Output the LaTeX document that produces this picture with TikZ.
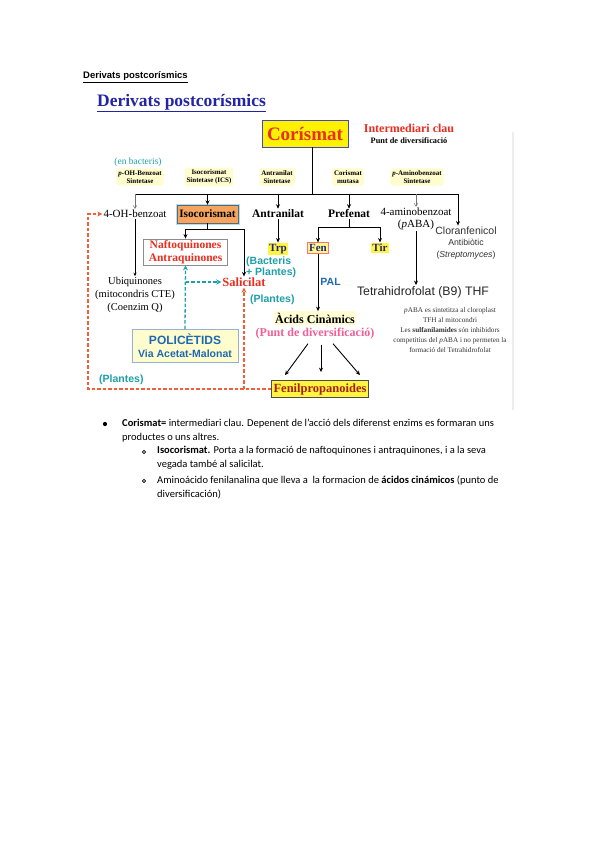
\documentclass[tikz,border=0pt]{standalone}
\usepackage{fontspec}
\setmainfont{Liberation Serif}
\setsansfont{Liberation Sans}
\newfontfamily\bodyfont{Carlito}
\usetikzlibrary{positioning, calc, arrows.meta}

\definecolor{titleblue}{RGB}{35,35,165}
\definecolor{corred}{RGB}{235,45,30}
\definecolor{coredge}{RGB}{70,70,200}
\definecolor{tealc}{RGB}{30,160,170}
\definecolor{dashred}{RGB}{242,95,55}
\definecolor{poliblue}{RGB}{30,105,180}
\definecolor{polifill}{RGB}{255,253,205}
\definecolor{poliedge}{RGB}{150,175,215}
\definecolor{pinkc}{RGB}{240,95,150}
\definecolor{fenbrown}{RGB}{165,30,10}
\definecolor{isofill}{RGB}{245,165,95}
\definecolor{navy}{RGB}{35,35,120}
\definecolor{enzfill}{RGB}{255,252,205}

\tikzset{
  every node/.style={inner sep=1pt},
  arr/.style={line width=0.9pt, -{Stealth[length=4.5pt,width=4pt]}},
  thinarr/.style={black!55, line width=0.5pt, -{Straight Barb[length=3pt,width=3.5pt]}},
  reddash/.style={dashred, line width=1.3pt, dash pattern=on 3.5pt off 2pt, -{Stealth[length=5pt,width=5pt]}},
  tealdash/.style={tealc, line width=1.3pt, dash pattern=on 3.5pt off 2pt, -{Stealth[length=5pt,width=5pt]}},
  enzlabel/.style={fill=enzfill, rounded corners=3pt, align=center, font=\bfseries\fontsize{7}{8.5}\selectfont, inner sep=2pt},
  metab/.style={font=\fontsize{11}{13}\selectfont, align=center},
  metabbf/.style={font=\bfseries\fontsize{11.5}{13}\selectfont},
  aminobox/.style={font=\bfseries\fontsize{11}{12}\selectfont, text=navy, fill=yellow!75, inner sep=1.5pt},
  tealnote/.style={text=tealc, font=\sffamily\bfseries\fontsize{10.5}{11}\selectfont, align=left, anchor=west},
  bodytxt/.style={font=\bodyfont\fontsize{10.5}{14}\selectfont, align=left, anchor=west, inner sep=0pt},
}

\begin{document}
\begin{tikzpicture}[x=1pt, y=-1pt]
    \useasboundingbox[fill=white] (0,0) rectangle (599,848);

    % --- Titles ---
    \node[anchor=west, font=\sffamily\bfseries\fontsize{9.5}{11}\selectfont] (pagetitle) at (82,77) {\underline{Derivats postcorísmics}};
    \node[anchor=west, text=titleblue, font=\bfseries\fontsize{17.5}{20}\selectfont] (figtitle) at (96,103) {\underline{Derivats postcorísmics}};

    % faint edge of the pasted figure
    \draw[black!7, line width=1.5pt] (513,132) -- (513,410);

    % --- Corismat and its note ---
    \node[draw=coredge, line width=1pt, fill=yellow, minimum width=86, minimum height=26, inner sep=0pt,
          text=corred, font=\bfseries\fontsize{19}{22}\selectfont] (cor) at (305,134) {Corísmat};
    \node[text=corred, font=\bfseries\fontsize{12}{14}\selectfont] (keynote) at (409,128) {Intermediari clau};
    \node[font=\bfseries\fontsize{8.3}{10}\selectfont] (keysub) at (409,141) {Punt de diversificació};

    % --- Enzymes ---
    \node[text=tealc, font=\fontsize{9.5}{11}\selectfont] (bact) at (138,162) {(en bacteris)};
    \node[enzlabel] (enzohb) at (140,177) {\textit{p}-OH-Benzoat\\Sintetase};
    \node[enzlabel] (enzics) at (209,177) {Isocorismat\\Sintetase (ICS)};
    \node[enzlabel] (enzant) at (277,177) {Antranilat\\Sintetase};
    \node[enzlabel] (enzmut) at (348,177) {Corismat\\mutasa};
    \node[enzlabel] (enzpab) at (417,177) {\textit{p}-Aminobenzoat\\Sintetase};

    % --- First products ---
    \node[metab] (ohb) at (135,214) {4-OH-benzoat};
    \node[draw=black!60, fill=isofill, preaction={draw=cyan!35, line width=3pt},
          minimum width=61, minimum height=18, inner sep=0pt, font=\bfseries\fontsize{11.3}{12}\selectfont] (iso) at (207.5,214) {Isocorismat};
    \node[metabbf] (antr) at (278,214) {Antranilat};
    \node[metabbf] (pref) at (349,214) {Prefenat};
    \node[metab, font=\fontsize{11}{12}\selectfont] (pab) at (416,219) {4-aminobenzoat\\(\textit{p}ABA)};
    \node[align=center, text=black!80, font=\sffamily\fontsize{8.7}{11.5}\selectfont] (clor) at (466,243)
         {{\fontsize{10.5}{12}\selectfont Cloranfenicol}\\Antibiòtic\\(\textit{Streptomyces})};

    % --- Branch from Corismat ---
    \coordinate (barL) at (135,194);
    \coordinate (barR) at (458,194);
    \draw[line width=0.9pt] (312,147) -- (312,194);
    \draw[line width=0.9pt] (barL) -- (barR);
    \draw[thinarr] (barL) -- (ohb.north);
    \draw[arr] (iso.north |- barL) -- (iso.north);
    \draw[arr] (antr.north |- barL) -- (antr.north);
    \draw[arr] (pref.north |- barL) -- (pref.north);
    \draw[thinarr] (pab.north |- barL) -- (pab.north);
    \draw[arr] (barR) -- (barR |- clor.north);

    % --- Isocorismat side ---
    \node[draw=black!45, line width=0.8pt, fill=white, minimum width=84, minimum height=26, inner sep=0pt, align=center,
          text=corred, font=\bfseries\fontsize{11.5}{13}\selectfont] (naft) at (185.5,252) {Naftoquinones\\Antraquinones};
    \node[text=corred, font=\bfseries\fontsize{12.5}{14}\selectfont] (sal) at (244,282) {Salicilat};
    \draw[line width=0.9pt] (iso.south) -- ++(0,6) coordinate (isofork);
    \draw[arr] (isofork) -| (naft.north);
    \draw[arr] (isofork) -| (sal.north);
    \node[tealnote] (bactpl) at (245,267) {(Bacteris\\+ Plantes)};
    \node[tealnote] (plsal) at (249,300) {(Plantes)};

    \node[metab, font=\fontsize{10.5}{12.8}\selectfont] (ubi) at (135,295) {Ubiquinones\\(mitocondris CTE)\\(Coenzim Q)};
    \draw[thinarr, black, line width=0.6pt, -{Stealth[length=3.5pt,width=3pt]}] (ohb.south) -- (ubi.north);

    \node[draw=poliedge, line width=0.9pt, fill=polifill, minimum width=106, minimum height=33, inner sep=0pt, align=center,
          text=poliblue, font=\sffamily\bfseries\fontsize{10.5}{13}\selectfont] (poli) at (185,346)
         {{\fontsize{12}{13}\selectfont POLICÈTIDS}\\Via Acetat-Malonat};
    \draw[tealdash] (poli.north) -- (naft.south);
    \draw[tealdash] (naft.south |- sal.west) -- (sal.west);

    % --- Aromatic amino acids ---
    \node[aminobox] (trp) at (278,249) {Trp};
    \node[aminobox, fill=yellow!45, draw=red!55, line width=0.8pt] (fen) at (318,248) {Fen};
    \node[aminobox] (tir) at (380,248) {Tir};
    \draw[arr] (antr.south) -- (trp.north);
    \draw[line width=0.9pt] (pref.south) -- ++(0,8) coordinate (preffork);
    \draw[arr] (preffork) -| (fen.north);
    \draw[arr] (preffork) -| (tir.north);

    \node[metabbf, font=\bfseries\fontsize{12}{14}\selectfont, fill=yellow!18, inner sep=1.5pt] (acids) at (315,318) {Àcids Cinàmics};
    \node[text=pinkc, font=\bfseries\fontsize{12}{14}\selectfont] (puntdiv) at (315,334) {(Punt de diversificació)};
    \draw[arr] (fen.south) -- (fen.south |- acids.north) node[midway, right=1pt, text=poliblue, font=\sffamily\bfseries\fontsize{10.5}{12}\selectfont] (pal) {PAL};

    \node[draw=black!70, line width=0.8pt, fill=yellow!75, minimum width=97, minimum height=17, inner sep=0pt,
          text=fenbrown, font=\bfseries\fontsize{12.5}{14}\selectfont] (fenil) at (320,389) {Fenilpropanoides};
    \draw[arr] ($(puntdiv.south)+(-7,3)$) -- ($(fenil.north)+(-35,-5)$);
    \draw[arr] ($(puntdiv.south)+(6,4)$) -- ($(fenil.north)+(1,-8)$);
    \draw[arr] ($(puntdiv.south)+(18,3)$) -- ($(fenil.north)+(40,-5)$);

    % --- Plant routes back up ---
    \coordinate (leftrail) at (88,214);
    \draw[reddash] (fenil.west) -| (leftrail) -- (ohb.west);
    \draw[reddash] (sal.south |- fenil.west) -- (sal.south);
    \node[tealnote] (plleft) at (98,380) {(Plantes)};

    % --- Folate side ---
    \node[font=\sffamily\fontsize{12.3}{14}\selectfont, text=black!85] (thf) at (423,292) {Tetrahidrofolat (B9) THF};
    \draw[arr] (pab.south) -- (pab.south |- thf.north);
    \node[align=center, text=black!80, font=\fontsize{7.2}{10.2}\selectfont] (pabnote) at (450,330)
         {\textit{p}ABA es sintetitza al cloroplast\\TFH al mitocondri\\Les \textbf{sulfanilamides} són inhibidors\\competitius del \textit{p}ABA i no permeten la\\formació del Tetrahidrofolat};

    % --- Notes under the figure ---
    \fill (105,424) circle (2.1);
    \node[bodytxt] (item1) at (122,431) {\textbf{Corismat=} intermediari clau. Depenent de l’acció dels diferenst enzims es formaran uns\\productes o uns altres.};
    \draw[line width=0.7pt] (144,452) circle (1.7);
    \node[bodytxt] (item2) at (157,457.5) {\textbf{Isocorismat.} Porta a la formació de naftoquinones i antraquinones, i a la seva\\vegada també al salicilat.};
    \draw[line width=0.7pt] (144,481) circle (1.7);
    \node[bodytxt] (item3) at (157,487.5) {Aminoácido fenilanalina que lleva a \ la formacion de \textbf{ácidos cinámicos} (punto de\\diversificación)};

\end{tikzpicture}
\end{document}
